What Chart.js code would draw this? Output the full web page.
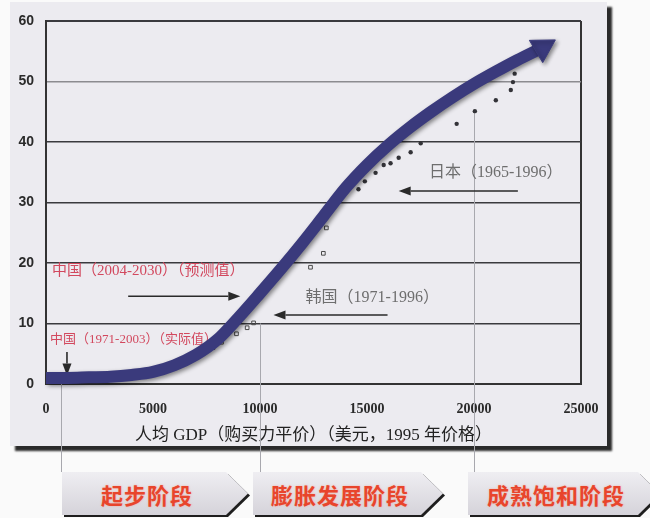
<!DOCTYPE html>
<html><head><meta charset="utf-8">
<script src="https://cdn.jsdelivr.net/npm/chart.js@4/dist/chart.umd.min.js"></script>
<style>
html,body{margin:0;padding:0;background:#fafafa;}
#wrap{position:relative;width:650px;height:518px;overflow:hidden;}
#card{position:absolute;left:10px;top:2px;width:597px;height:444px;background:#ecebf0;box-shadow:5px 5px 2px #2a2a2a;}
canvas{position:absolute;left:0;top:0;}
.chev{position:absolute;top:472px;height:43px;}
.chev .sh{position:absolute;left:2px;top:2px;right:-2px;bottom:-2px;background:#1e1e1e;
 clip-path:polygon(0 0, calc(100% - 22px) 0, 100% 50%, calc(100% - 22px) 100%, 0 100%);}
.chev .bx{position:absolute;left:0;top:0;right:0;bottom:0;box-sizing:border-box;
 background:linear-gradient(#efeef2,#d5d3da);
 clip-path:polygon(0 0, calc(100% - 22px) 0, 100% 50%, calc(100% - 22px) 100%, 0 100%);
 display:flex;align-items:center;justify-content:center;padding-right:16px;
 font:bold 22px "Noto Sans CJK SC";color:#e8452c;letter-spacing:1px;text-shadow:0 0 2px rgba(255,120,90,0.5);}
</style>
</head><body>
<div id="wrap">
 <div id="card"></div>
 <div class="chev" style="left:62px;width:186px"><div class="sh"></div><div class="bx">起步阶段</div></div>
 <div class="chev" style="left:253px;width:190px"><div class="sh"></div><div class="bx">膨胀发展阶段</div></div>
 <div class="chev" style="left:468px;width:192px"><div class="sh"></div><div class="bx">成熟饱和阶段</div></div>
 <canvas id="c" width="650" height="518"></canvas>
</div>
<script>
// ---- data ----
const curveX = [0, 1000, 2000, 3000, 4000, 5000, 6000, 7000, 8000, 9000, 10000, 11000, 12000, 13000, 14000, 15000, 16000, 17000, 18000, 19000, 20000, 21000, 22000, 23200];
const curveY = [1.0, 1.0, 1.1, 1.2, 1.5, 2.0, 3.1, 4.8, 7.3, 11.0, 15.0, 19.1, 23.4, 27.9, 32.4, 36.2, 39.5, 42.4, 45.0, 47.4, 49.6, 51.6, 53.5, 55.6];
const japanX = [14600, 14900, 15400, 15780, 16100, 16480, 17040, 17510, 19190, 20040, 21020, 21720, 21820, 21900];
const japanY = [32.2, 33.5, 34.9, 36.2, 36.5, 37.4, 38.3, 39.8, 43.0, 45.1, 46.9, 48.6, 49.9, 51.3];
const koreaX = [6400, 7800, 8200, 8900, 9400, 9700, 12360, 12960, 13100];
const koreaY = [3.5, 6.0, 6.9, 8.3, 9.3, 10.1, 19.3, 21.6, 25.8];
const xTicks = [0, 5000, 10000, 15000, 20000, 25000];
const yTicks = [0, 10, 20, 30, 40, 50, 60];
const xTitle = '人均 GDP（购买力平价）（美元，1995 年价格）';
const noteTexts = ['日本（1965-1996）', '韩国（1971-1996）', '中国（2004-2030）（预测值）', '中国（1971-2003）（实际值）'];

// ---- annotation layout (data coordinates) ----
const notes = [
  {text: noteTexts[0], x: 17900, y: 34.9, color: '#6e6e6e', font: '16px "Liberation Serif","Noto Sans CJK SC"'},
  {text: noteTexts[1], x: 12130, y: 14.2, color: '#6e6e6e', font: '16px "Liberation Serif","Noto Sans CJK SC"'},
  {text: noteTexts[2], x: 280, y: 18.7, color: '#d2485e', font: '15px "Liberation Serif","Noto Sans CJK SC"'},
  {text: noteTexts[3], x: 190, y: 7.4, color: '#d2485e', font: '13px "Liberation Serif","Noto Sans CJK SC"'}
];
const arrows = [
  {x1: 22050, y1: 31.9, x2: 16480, y2: 31.9},
  {x1: 15960, y1: 11.4, x2: 10630, y2: 11.4},
  {x1: 3840, y1: 14.5, x2: 9080, y2: 14.5},
  {x1: 980, y1: 5.3, x2: 980, y2: 1.4}
];
const drops = [{x: 700, y: 0}, {x: 10000, y: 10}, {x: 20000, y: 45}];
const dropBottom = 472;

const annot = {
  id: 'annot',
  beforeDatasetsDraw(chart) {
    const {ctx, scales: {x, y}} = chart;
    ctx.save();
    ctx.strokeStyle = '#a8a8ae'; ctx.lineWidth = 1;
    drops.forEach(d => {
      const px = Math.round(x.getPixelForValue(d.x)) + 0.5;
      ctx.beginPath(); ctx.moveTo(px, y.getPixelForValue(d.y)); ctx.lineTo(px, dropBottom); ctx.stroke();
    });
    ctx.textAlign = 'left'; ctx.textBaseline = 'middle';
    notes.forEach(n => {
      ctx.font = n.font; ctx.fillStyle = n.color;
      ctx.fillText(n.text, x.getPixelForValue(n.x), y.getPixelForValue(n.y));
    });
    ctx.strokeStyle = '#2a2a2a'; ctx.fillStyle = '#2a2a2a'; ctx.lineWidth = 1.6;
    arrows.forEach(a => {
      const x1 = x.getPixelForValue(a.x1), y1 = y.getPixelForValue(a.y1);
      const x2 = x.getPixelForValue(a.x2), y2 = y.getPixelForValue(a.y2);
      const ang = Math.atan2(y2 - y1, x2 - x1), L = 12, W = 4.5;
      const bx = x2 - Math.cos(ang) * L, by = y2 - Math.sin(ang) * L;
      ctx.beginPath(); ctx.moveTo(x1, y1); ctx.lineTo(bx, by); ctx.stroke();
      ctx.beginPath(); ctx.moveTo(x2, y2);
      ctx.lineTo(bx + Math.sin(ang) * W, by - Math.cos(ang) * W);
      ctx.lineTo(bx - Math.sin(ang) * W, by + Math.cos(ang) * W);
      ctx.closePath(); ctx.fill();
    });
    ctx.restore();
  },
  beforeDatasetDraw(chart, args) {
    if (args.index === 0) {
      const ctx = chart.ctx; ctx.save();
      ctx.shadowColor = 'rgba(0,0,0,0.45)'; ctx.shadowBlur = 4; ctx.shadowOffsetX = 2; ctx.shadowOffsetY = 2;
    }
  },
  afterDatasetDraw(chart, args) {
    if (args.index === 0) chart.ctx.restore();
  }
};

const n = curveX.length;
new Chart(document.getElementById('c'), {
  type: 'line',
  data: {
    datasets: [
      {
        label: 'curve',
        data: curveX.map((v, i) => ({x: v, y: curveY[i]})),
        borderColor: '#3a3a7c', backgroundColor: '#3a3a7c', borderWidth: 12,
        cubicInterpolationMode: 'monotone', borderCapStyle: 'butt',
        pointStyle: 'triangle', pointRotation: 59,
        pointRadius: curveX.map((v, i) => i === n - 1 ? 15 : 0),
        pointBorderWidth: 1, pointBackgroundColor: '#3a3a7c', pointBorderColor: '#3a3a7c',
        clip: false
      },
      {
        label: '日本', type: 'scatter',
        data: japanX.map((v, i) => ({x: v, y: japanY[i]})),
        pointStyle: 'circle', pointRadius: 2.2, backgroundColor: '#333338', borderColor: '#333338', borderWidth: 0
      },
      {
        label: '韩国', type: 'scatter',
        data: koreaX.map((v, i) => ({x: v, y: koreaY[i]})),
        pointStyle: 'rect', pointRadius: 2.6, backgroundColor: 'rgba(0,0,0,0)', borderColor: '#4a4a4a', borderWidth: 1
      }
    ]
  },
  options: {
    responsive: false, animation: false, devicePixelRatio: 1,
    layout: {padding: {left: 0, top: 21, right: 69, bottom: 72}},
    plugins: {legend: {display: false}, tooltip: {enabled: false}},
    scales: {
      x: {
        type: 'linear', min: 0, max: 25000,
        afterBuildTicks: s => { s.ticks = xTicks.map(v => ({value: v})); },
        afterFit: s => { s.height = 62; },
        ticks: {color: '#2a2a2a', font: {family: '"Liberation Serif"', size: 14, weight: 'bold'}, padding: 17, maxRotation: 0,
                callback: v => String(v)},
        grid: {drawTicks: false, color: c => c.tick && c.tick.value === 25000 ? '#333' : 'rgba(0,0,0,0)', lineWidth: 2},
        border: {color: '#333', width: 2},
        title: {display: true, text: xTitle, color: '#222', font: {family: '"Liberation Serif","Noto Sans CJK SC"', size: 17}, padding: 0}
      },
      y: {
        min: 0, max: 60,
        afterBuildTicks: s => { s.ticks = yTicks.map(v => ({value: v})); },
        afterFit: s => { s.width = 46; },
        ticks: {color: '#2a2a2a', font: {family: '"Liberation Sans"', size: 14, weight: 'bold'}, padding: 12,
                callback: v => String(v)},
        grid: {drawTicks: false, color: c => c.tick.value === 50 ? '#8c8c90' : (c.tick.value === 0 ? 'rgba(0,0,0,0)' : '#3a3a3e'), lineWidth: c => c.tick.value === 60 ? 2 : 1.6},
        border: {color: '#333', width: 2}
      }
    }
  },
  plugins: [annot]
});
</script>
</body></html>
